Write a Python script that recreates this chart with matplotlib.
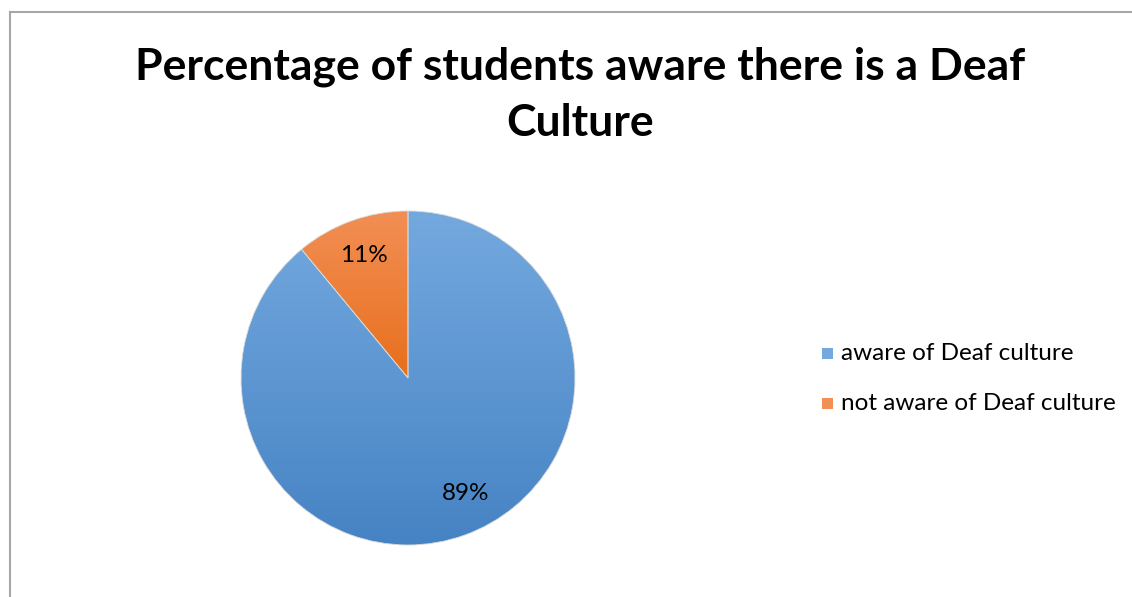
import numpy as np
import matplotlib.pyplot as plt
from matplotlib.colors import LinearSegmentedColormap
from matplotlib.patches import Rectangle

plt.rcParams['font.family'] = ['Lato', 'DejaVu Sans']

title = 'Percentage of students aware there is a Deaf\nCulture'
labels = ['aware of Deaf culture', 'not aware of Deaf culture']
values = [89, 11]
tops = ['#74a9df', '#f28f55']
bottoms = ['#4683c4', '#e86f1c']

fig = plt.figure(figsize=(11.32, 5.97), dpi=100)
W, H = 1132, 597

# chart border (cropped on right and bottom)
fig.add_artist(plt.Line2D([10 / W, 1], [1 - 12 / H, 1 - 12 / H], color='#a6a6a6', lw=1.5))
fig.add_artist(plt.Line2D([10 / W, 10 / W], [0, 1 - 12 / H], color='#a6a6a6', lw=1.5))

fig.text(0.512, 1 - 95 / H, title, ha='center', va='center', fontsize=32,
         fontweight='bold', linespacing=1.5)

ax = fig.add_axes([241 / W, 52 / H, 334 / W, 334 / H])
wedges, texts, autotexts = ax.pie(values, startangle=90, counterclock=False,
                                  autopct='%1.0f%%', pctdistance=0.78,
                                  colors=tops, wedgeprops=dict(edgecolor='#d9d9d9', linewidth=0.6),
                                  textprops=dict(fontsize=17.5, color='black'))
# Excel puts the big slice's label a bit further round
a = np.deg2rad(-63.6)
autotexts[0].set_position((0.77 * np.cos(a), 0.77 * np.sin(a)))

# vertical gradient for each wedge
for w, c1, c2 in zip(wedges, tops, bottoms):
    w.set_facecolor('none')
    path = w.get_path()
    y0, y1 = path.vertices[:, 1].min(), path.vertices[:, 1].max()
    x0, x1 = path.vertices[:, 0].min(), path.vertices[:, 0].max()
    cmap = LinearSegmentedColormap.from_list('g', [c2, c1])
    grad = np.linspace(0, 1, 256).reshape(-1, 1)
    im = ax.imshow(grad, cmap=cmap, origin='lower', extent=[x0, x1, y0, y1],
                   aspect='auto', zorder=0.5)
    im.set_clip_path(w)
ax.set_xlim(-1, 1)
ax.set_ylim(-1, 1)
ax.set_aspect('equal')

# legend
for i, lab in enumerate(labels):
    y = 1 - (353 + i * 50) / H
    fig.add_artist(Rectangle((822 / W, y - 5.5 / H), 11 / W, 11 / H,
                             facecolor=tops[i], edgecolor='none'))
    fig.text(841 / W, y, lab, ha='left', va='center', fontsize=17.5)

fig.savefig('out.png', dpi=100)
